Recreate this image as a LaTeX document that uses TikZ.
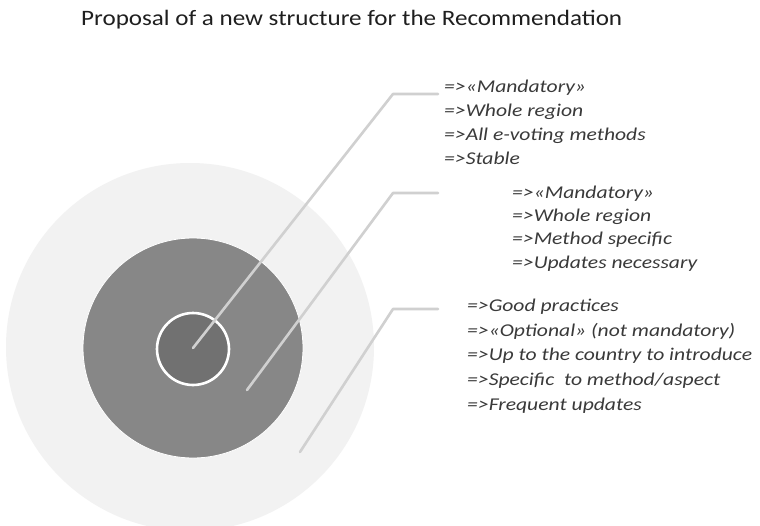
\documentclass[tikz,border=0pt]{standalone}
\usepackage{fontspec}
\setmainfont{Carlito}
\begin{document}
\begin{tikzpicture}[x=1pt,y=-1pt,
  ring/.style={circle,inner sep=0pt,minimum size=#1},
  leader/.style={draw=leadergray,line width=2.6pt,line cap=round,line join=round},
  note/.style={anchor=base west,inner sep=0pt,text=notegray,
    font=\fontsize{18}{24}\selectfont\itshape,xscale=1.2,transform shape},
]
\definecolor{ringouter}{HTML}{F2F2F2}
\definecolor{ringmid}{HTML}{878787}
\definecolor{ringinner}{HTML}{717171}
\definecolor{leadergray}{HTML}{D0D0D0}
\definecolor{notegray}{HTML}{3A3A3A}
\useasboundingbox[fill=white] (0,0) rectangle (760,525);

% title
\node[anchor=base west,inner sep=0pt,text=black!88,
  font=\fontsize{22}{26}\selectfont,xscale=1.14,transform shape] (title) at (81,25.7)
  {Proposal of a new structure for the Recommendation};

% concentric rings
\node[ring=368pt,fill=ringouter] (outer) at (190,347) {};
\node[ring=220pt,fill=ringmid,draw=white,line width=0.8pt] (middle) at (193,348) {};
\node[ring=72pt,fill=ringinner,draw=white,line width=2.6pt] (inner) at (193,349) {};

% leader lines
\coordinate (s1) at (193,348);  \coordinate (k1) at (393,94);  \coordinate (e1) at (438,94);
\coordinate (s2) at (247,390);  \coordinate (k2) at (393,193); \coordinate (e2) at (438,193);
\coordinate (s3) at (300,452);  \coordinate (k3) at (393,309); \coordinate (e3) at (438,309);
\draw[leader] (s1) -- (k1) -- (e1);
\draw[leader] (s2) -- (k2) -- (e2);
\draw[leader] (s3) -- (k3) -- (e3);

% descriptions, one node per line
\foreach \t [count=\i] in {=>«Mandatory»,=>Whole region,=>All e-voting methods,=>Stable}
  \node[note] (core\i) at (444,{92+24*(\i-1)}) {\t};
\foreach \t [count=\i] in {=>«Mandatory»,=>Whole region,=>Method specific,=>Updates necessary}
  \node[note] (mid\i) at (512,{198.3+23.3*(\i-1)}) {\t};
\foreach \t [count=\i] in {=>Good practices,=>«Optional» (not mandatory),=>Up to the country to introduce,=>Specific\ \ to method/aspect,=>Frequent updates}
  \node[note] (rim\i) at (467,{311.7+24.6*(\i-1)}) {\t};
\end{tikzpicture}
\end{document}
